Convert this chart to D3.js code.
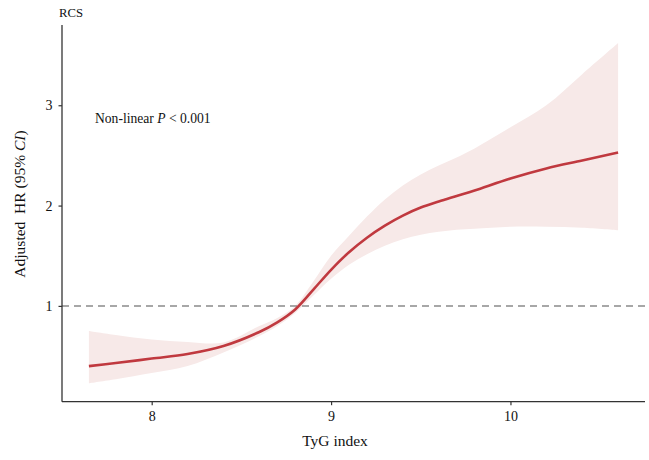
<!DOCTYPE html>
<html>
<head>
<meta charset="utf-8">
<script src="https://cdn.jsdelivr.net/npm/d3@7"></script>
<style>
  html, body { margin: 0; padding: 0; background: #fff; }
  svg { display: block; font-family: "Liberation Serif", "Times New Roman", serif; }
</style>
</head>
<body>
<svg id="chart" width="649" height="460"></svg>
<script>
// TyG index values
const tyg = [7.65, 7.8, 8.0, 8.2, 8.4, 8.6, 8.7, 8.8, 8.9, 9.0, 9.1, 9.2, 9.3, 9.4, 9.5, 9.6, 9.7, 9.8, 10.0, 10.2, 10.4, 10.6];
// Adjusted HR (point estimate)
const hr = [0.40, 0.43, 0.475, 0.52, 0.60, 0.74, 0.836, 0.965, 1.16, 1.36, 1.535, 1.68, 1.80, 1.90, 1.98, 2.04, 2.095, 2.15, 2.27, 2.37, 2.45, 2.53];
// 95% CI bounds
const ciLower = [0.23, 0.27, 0.33, 0.40, 0.535, 0.70, 0.80, 0.93, 1.10, 1.27, 1.41, 1.515, 1.60, 1.665, 1.71, 1.74, 1.76, 1.77, 1.79, 1.79, 1.78, 1.755];
const ciUpper = [0.75, 0.71, 0.665, 0.64, 0.635, 0.80, 0.88, 1.00, 1.24, 1.50, 1.70, 1.89, 2.06, 2.20, 2.31, 2.40, 2.48, 2.57, 2.78, 3.00, 3.31, 3.62];
const xTicks = [8, 9, 10];
const yTicks = [1, 2, 3];
const refHR = 1;

const data = tyg.map((x, i) => ({ x, hr: hr[i], lo: ciLower[i], hi: ciUpper[i] }));

const svg = d3.select("#chart");
const mLeft = 62, mRight = 645, mTop = 25, mBottom = 401.7;

const x = d3.scaleLinear().domain([7.5, 10.75]).range([mLeft, mRight]);
const y = d3.scaleLinear().domain([0.045, 3.80]).range([mBottom, mTop]);

// ribbon
svg.append("path")
  .datum(data)
  .attr("fill", "#f7e9e8")
  .attr("d", d3.area().x(d => x(d.x)).y0(d => y(d.lo)).y1(d => y(d.hi)).curve(d3.curveCatmullRom.alpha(0.5)));

// reference line
svg.append("line")
  .attr("x1", mLeft).attr("x2", mRight)
  .attr("y1", y(refHR)).attr("y2", y(refHR))
  .attr("stroke", "#8a8a8a").attr("stroke-width", 1.5)
  .attr("stroke-dasharray", "7,5");

// curve
svg.append("path")
  .datum(data)
  .attr("fill", "none")
  .attr("stroke", "#c0393f")
  .attr("stroke-width", 2.6)
  .attr("d", d3.line().x(d => x(d.x)).y(d => y(d.hr)).curve(d3.curveCatmullRom.alpha(0.5)));

// axes
const xAxis = svg.append("g")
  .attr("transform", `translate(0,${mBottom})`)
  .call(d3.axisBottom(x).tickValues(xTicks).tickSize(3.5).tickPadding(6).tickFormat(d3.format("d")));
const yAxis = svg.append("g")
  .attr("transform", `translate(${mLeft},0)`)
  .call(d3.axisLeft(y).tickValues(yTicks).tickSize(3.5).tickPadding(6).tickFormat(d3.format("d")));

[xAxis, yAxis].forEach(g => {
  g.select(".domain").attr("stroke", "#333").attr("stroke-width", 1.3);
  g.selectAll(".tick line").attr("stroke", "#333").attr("stroke-width", 1.2);
  g.selectAll(".tick text").attr("fill", "#111").attr("font-size", 14)
    .attr("font-family", "Liberation Serif, Times New Roman, serif");
});
xAxis.select(".domain").attr("d", `M${mLeft},0H${mRight}`);
yAxis.select(".domain").attr("d", `M0,${mTop}V${mBottom}`);

// titles
svg.append("text")
  .attr("x", 335).attr("y", 446)
  .attr("text-anchor", "middle").attr("font-size", 15.5).attr("fill", "#111")
  .text("TyG index");

const yt = svg.append("text")
  .attr("transform", "translate(25,204) rotate(-90)")
  .attr("text-anchor", "middle").attr("font-size", 15.5).attr("fill", "#111");
yt.append("tspan").text("Adjusted\u00a0 HR (95% ");
yt.append("tspan").attr("font-style", "italic").text("CI");
yt.append("tspan").text(")");

svg.append("text")
  .attr("x", 59).attr("y", 16.7)
  .attr("font-size", 12.7).attr("fill", "#111")
  .text("RCS");

const nl = svg.append("text")
  .attr("x", 95).attr("y", 122.5)
  .attr("font-size", 13.6).attr("fill", "#111");
nl.append("tspan").text("Non-linear ");
nl.append("tspan").attr("font-style", "italic").text("P");
nl.append("tspan").text(" < 0.001");
</script>
</body>
</html>
